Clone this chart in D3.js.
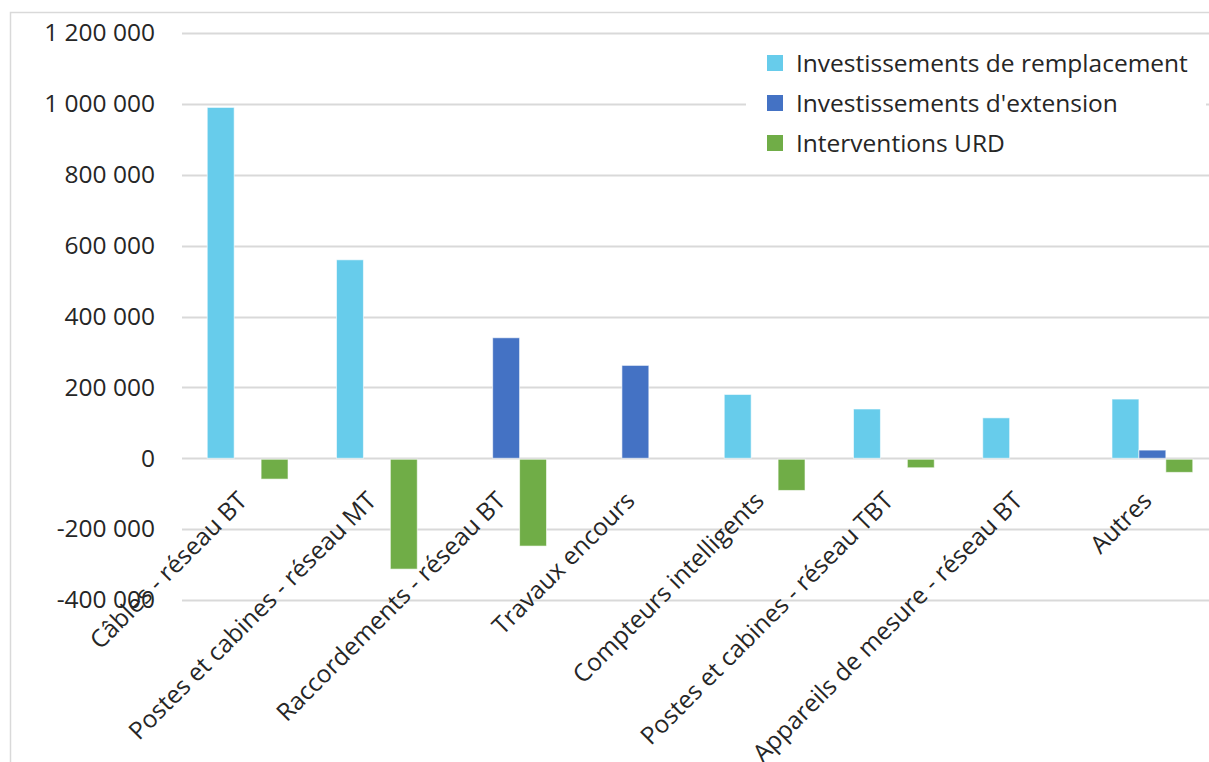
<!DOCTYPE html>
<html>
<head>
<meta charset="utf-8">
<script src="https://cdn.jsdelivr.net/npm/d3@7"></script>
<style>
  html, body { margin: 0; padding: 0; background: #fff; }
  svg { display: block; }
  text { font-family: "Open Sans", "Noto Sans", sans-serif; fill: #262626; }
</style>
</head>
<body>
<svg id="chart" width="1209" height="762"></svg>
<script>
// Categories and series values
const categories = [
  "Câbles - réseau BT",
  "Postes et cabines - réseau MT",
  "Raccordements - réseau BT",
  "Travaux encours",
  "Compteurs intelligents",
  "Postes et cabines - réseau TBT",
  "Appareils de mesure - réseau BT",
  "Autres"
];
const seriesNames = [
  "Investissements de remplacement",
  "Investissements d'extension",
  "Interventions URD"
];
const remplacement = [990000, 560000, 0, 0, 180000, 139000, 114000, 167000];
const extension    = [0, 0, 340000, 262000, 0, 0, 0, 23000];
const urd          = [-56000, -310000, -245000, 0, -88000, -24000, 0, -37000];
const yTicks = [-400000, -200000, 0, 200000, 400000, 600000, 800000, 1000000, 1200000];
const colors = ["#67CCEB", "#4472C4", "#70AD47"];

const FONT_SIZE = 24.5;

const seriesValues = [remplacement, extension, urd];
const rows = categories.map((c, i) => ({
  category: c,
  values: seriesNames.map((s, k) => ({ series: s, k, value: seriesValues[k][i] }))
}));

const svg = d3.select("#chart");

// Outer chart frame
svg.append("rect")
  .attr("x", 10.5).attr("y", 12.5)
  .attr("width", 1400).attr("height", 1000)
  .attr("fill", "none").attr("stroke", "#d9d9d9").attr("stroke-width", 1.5);

const x0 = d3.scaleBand().domain(categories).range([183, 1217]).paddingInner(0).paddingOuter(0);
const x1 = d3.scaleBand().domain(seriesNames).range([0, x0.bandwidth()]).paddingInner(0).paddingOuter(0.9);
const y = d3.scaleLinear().domain([-400000, 1200000]).range([600, 33]);

// French-style thousands separator
const fmt = v => d3.format(",")(v).replace(/,/g, " ").replace("−", "-");

// Gridlines
svg.append("g")
  .selectAll("line")
  .data(yTicks)
  .join("line")
  .attr("x1", 182).attr("x2", 1209)
  .attr("y1", d => Math.round(y(d)) + 0.5).attr("y2", d => Math.round(y(d)) + 0.5)
  .attr("stroke", "#d9d9d9").attr("stroke-width", 2);

// Y axis labels
const yAxis = d3.axisLeft(y).tickValues(yTicks).tickFormat(fmt).tickSize(0).tickPadding(0);
const gy = svg.append("g").attr("transform", "translate(155,0)").call(yAxis);
gy.select(".domain").remove();
gy.selectAll("text")
  .attr("font-size", FONT_SIZE)
  .attr("fill", "#262626")
  .style("font-family", "'Open Sans', sans-serif");

// Bars
const groups = svg.append("g")
  .selectAll("g")
  .data(rows)
  .join("g")
  .attr("transform", d => `translate(${x0(d.category)},0)`);

groups.selectAll("rect")
  .data(d => d.values.filter(v => v.value !== 0))
  .join("rect")
  .attr("x", d => x1(d.series))
  .attr("width", x1.bandwidth())
  .attr("y", d => d.value >= 0 ? y(d.value) : y(0) + 1)
  .attr("height", d => Math.abs(y(d.value) - y(0)))
  .attr("fill", d => colors[d.k])
  .attr("stroke", "#ffffff")
  .attr("stroke-opacity", 0.6)
  .attr("stroke-width", 1);

// Category labels, rotated
const xAxis = d3.axisBottom(x0).tickSize(0).tickPadding(0);
const gx = svg.append("g").attr("transform", `translate(0,${y(0)})`).call(xAxis);
gx.select(".domain").remove();
gx.selectAll("text")
  .attr("font-size", FONT_SIZE)
  .attr("fill", "#262626")
  .style("font-family", "'Open Sans', sans-serif")
  .attr("text-anchor", "end")
  .attr("dy", null)
  .attr("y", 0)
  .attr("transform", "translate(1,44) rotate(-45)");

// Legend
const legend = svg.append("g");
legend.append("rect")
  .attr("x", 746).attr("y", 42).attr("width", 460).attr("height", 122)
  .attr("fill", "#ffffff");
const items = legend.selectAll("g")
  .data(seriesNames)
  .join("g")
  .attr("transform", (d, i) => `translate(767,${63 + i * 40})`);
items.append("rect")
  .attr("x", 0).attr("y", -8).attr("width", 16).attr("height", 16)
  .attr("fill", (d, i) => colors[i]);
items.append("text")
  .attr("x", 29).attr("y", 0).attr("dy", "0.35em")
  .attr("font-size", FONT_SIZE)
  .text(d => d);
</script>
</body>
</html>
